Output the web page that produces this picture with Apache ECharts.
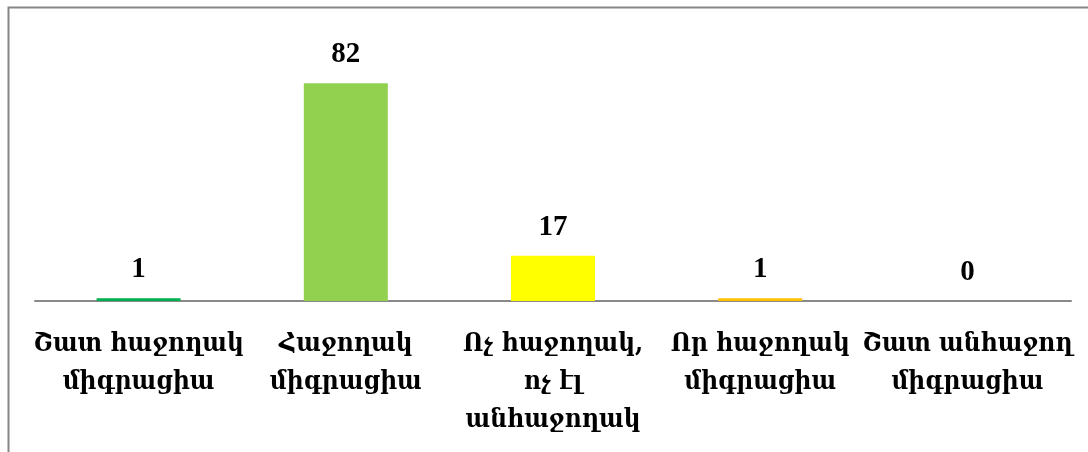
<!DOCTYPE html>
<html><head><meta charset="utf-8">
<script src="https://cdn.jsdelivr.net/npm/echarts@6/dist/echarts.min.js"></script>
<style>html,body{margin:0;padding:0;background:#fff}#c{width:1088px;height:452px}</style>
</head><body><div id="c"></div>
<script>
const categories = [
  "Շատ հաջողակ\nմիգրացիա",
  "Հաջողակ\nմիգրացիա",
  "Ոչ հաջողակ,\nոչ էլ\nանհաջողակ",
  "Որ հաջողակ\nմիգրացիա",
  "Շատ անհաջող\nմիգրացիա"
];
const values = [1, 82, 17, 1, 0];
const barColors = ["#00B050", "#92D050", "#FFFF00", "#FFC000", "#4F81BD"];

const chart = echarts.init(document.getElementById('c'), null, {renderer: 'canvas'});
chart.setOption({
  backgroundColor: '#fff',
  animation: false,
  graphic: [{
    type: 'rect', left: 6, top: 5,
    shape: {x: 0, y: 0, width: 1200, height: 600},
    style: {fill: 'none', stroke: '#868686', lineWidth: 2},
    silent: true
  }],
  grid: {left: 35, right: 17, top: 62, bottom: 151, containLabel: false},
  xAxis: {
    type: 'category', data: categories,
    axisLine: {show: true, lineStyle: {color: '#898989', width: 2}},
    axisTick: {show: false},
    axisLabel: {
      interval: 0, color: '#000', fontFamily: "'DejaVu Serif Condensed', 'DejaVu Serif', serif",
      fontWeight: 'bold', fontSize: 26, lineHeight: 38, margin: 24, verticalAlign: 'top'
    }
  },
  yAxis: {type: 'value', min: 0, max: 90, show: false, splitLine: {show: false}},
  series: [{
    type: 'bar', barWidth: 84,
    data: values.map((v, i) => ({value: v, itemStyle: {color: barColors[i]}})),
    label: {
      show: true, position: 'top', distance: 14, color: '#000',
      fontFamily: "'Liberation Serif', serif", fontWeight: 'bold', fontSize: 29
    }
  }]
});
</script></body></html>
